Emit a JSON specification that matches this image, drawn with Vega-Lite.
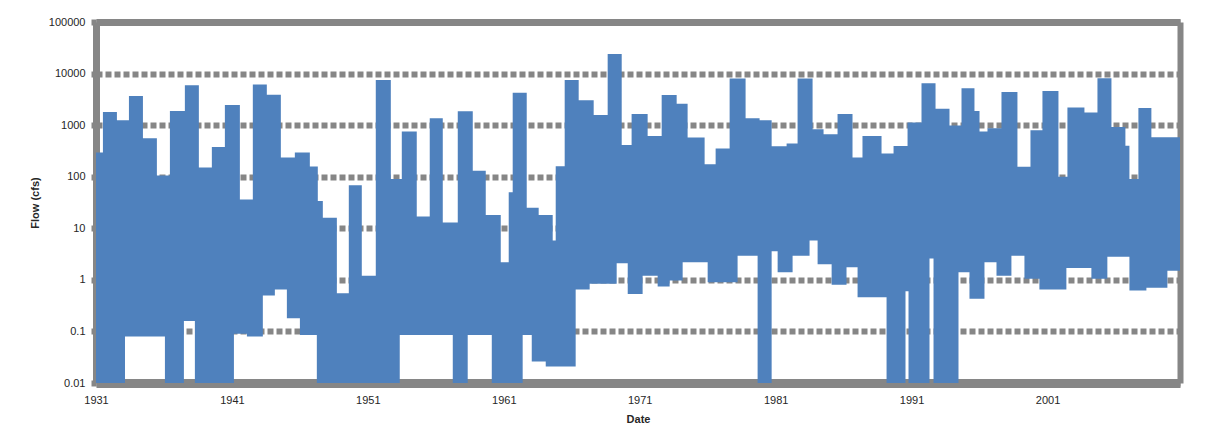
{
  "$schema": "https://vega.github.io/schema/vega-lite/v6.json",
  "width": 1084,
  "height": 361,
  "autosize": {"type": "none"},
  "padding": {"left": 96, "top": 22, "right": 36, "bottom": 63},
  "background": "white",
  "config": {
    "view": {"stroke": null},
    "font": "Liberation Sans",
    "axis": {"labelFont": "Liberation Sans", "titleFont": "Liberation Sans", "labelColor": "#262626", "titleColor": "#262626"}
  },
  "data": {"values": [
    {"date":"1931-01-01","hi":295,"lo":0.01},
    {"date":"1931-07-06","hi":1800,"lo":0.01},
    {"date":"1932-07-16","hi":1245,"lo":0.01},
    {"date":"1933-02-18","hi":1245,"lo":0.08},
    {"date":"1933-06-04","hi":3670,"lo":0.08},
    {"date":"1934-06-15","hi":558,"lo":0.08},
    {"date":"1935-06-25","hi":105,"lo":0.08},
    {"date":"1936-01-27","hi":105,"lo":0.01},
    {"date":"1936-06-09","hi":1880,"lo":0.01},
    {"date":"1937-06-20","hi":1880,"lo":0.16},
    {"date":"1937-07-16","hi":5910,"lo":0.16},
    {"date":"1938-04-11","hi":5910,"lo":0.01},
    {"date":"1938-07-27","hi":151,"lo":0.01},
    {"date":"1939-07-11","hi":377,"lo":0.01},
    {"date":"1940-06-25","hi":2460,"lo":0.01},
    {"date":"1941-02-23","hi":2460,"lo":0.09},
    {"date":"1941-08-02","hi":36,"lo":0.09},
    {"date":"1942-02-07","hi":36,"lo":0.08},
    {"date":"1942-07-16","hi":6170,"lo":0.08},
    {"date":"1943-04-11","hi":6170,"lo":0.5},
    {"date":"1943-07-27","hi":3900,"lo":0.5},
    {"date":"1944-02-28","hi":3900,"lo":0.65},
    {"date":"1944-08-07","hi":236,"lo":0.65},
    {"date":"1945-01-16","hi":236,"lo":0.18},
    {"date":"1945-08-18","hi":295,"lo":0.18},
    {"date":"1946-01-01","hi":295,"lo":0.085},
    {"date":"1946-09-25","hi":158,"lo":0.085},
    {"date":"1947-04-01","hi":158,"lo":0.01},
    {"date":"1947-04-27","hi":34,"lo":0.01},
    {"date":"1947-09-09","hi":16,"lo":0.01},
    {"date":"1948-09-20","hi":0.55,"lo":0.01},
    {"date":"1949-08-07","hi":68,"lo":0.01},
    {"date":"1950-07-22","hi":1.2,"lo":0.01},
    {"date":"1951-08-02","hi":7500,"lo":0.01},
    {"date":"1952-09-09","hi":90,"lo":0.01},
    {"date":"1953-05-07","hi":90,"lo":0.085},
    {"date":"1953-07-01","hi":750,"lo":0.085},
    {"date":"1954-08-07","hi":17,"lo":0.085},
    {"date":"1955-07-22","hi":1360,"lo":0.085},
    {"date":"1956-07-06","hi":13,"lo":0.085},
    {"date":"1957-04-01","hi":13,"lo":0.01},
    {"date":"1957-08-13","hi":1850,"lo":0.01},
    {"date":"1958-05-07","hi":1850,"lo":0.085},
    {"date":"1958-09-20","hi":130,"lo":0.085},
    {"date":"1959-09-04","hi":18,"lo":0.085},
    {"date":"1960-02-13","hi":18,"lo":0.01},
    {"date":"1960-10-11","hi":2.2,"lo":0.01},
    {"date":"1961-05-13","hi":50,"lo":0.01},
    {"date":"1961-08-28","hi":4270,"lo":0.01},
    {"date":"1962-05-23","hi":4270,"lo":0.085},
    {"date":"1962-09-09","hi":25,"lo":0.085},
    {"date":"1963-01-22","hi":25,"lo":0.026},
    {"date":"1963-07-27","hi":18,"lo":0.026},
    {"date":"1964-02-02","hi":18,"lo":0.021},
    {"date":"1964-08-07","hi":5.8,"lo":0.021},
    {"date":"1964-10-27","hi":160,"lo":0.021},
    {"date":"1965-06-25","hi":7500,"lo":0.021},
    {"date":"1966-04-16","hi":7500,"lo":0.65},
    {"date":"1966-07-06","hi":3030,"lo":0.65},
    {"date":"1967-04-27","hi":3030,"lo":0.84},
    {"date":"1967-08-13","hi":1580,"lo":0.84},
    {"date":"1968-08-23","hi":24000,"lo":0.84},
    {"date":"1969-04-22","hi":24000,"lo":2.1},
    {"date":"1969-09-04","hi":414,"lo":2.1},
    {"date":"1970-02-13","hi":414,"lo":0.53},
    {"date":"1970-05-28","hi":1640,"lo":0.53},
    {"date":"1971-03-20","hi":1640,"lo":1.2},
    {"date":"1971-08-02","hi":617,"lo":1.2},
    {"date":"1972-04-27","hi":617,"lo":0.74},
    {"date":"1972-08-13","hi":3840,"lo":0.74},
    {"date":"1973-03-15","hi":3840,"lo":0.97},
    {"date":"1973-09-20","hi":2610,"lo":0.97},
    {"date":"1974-02-28","hi":2610,"lo":2.2},
    {"date":"1974-07-11","hi":575,"lo":2.2},
    {"date":"1975-10-11","hi":175,"lo":2.2},
    {"date":"1976-01-01","hi":175,"lo":0.9},
    {"date":"1976-08-02","hi":352,"lo":0.9},
    {"date":"1977-08-13","hi":8000,"lo":0.9},
    {"date":"1978-03-15","hi":8000,"lo":2.95},
    {"date":"1978-10-16","hi":1360,"lo":2.95},
    {"date":"1979-09-04","hi":1360,"lo":0.01},
    {"date":"1979-10-27","hi":1245,"lo":0.01},
    {"date":"1980-09-15","hi":391,"lo":3.6},
    {"date":"1981-02-23","hi":391,"lo":1.4},
    {"date":"1981-10-22","hi":440,"lo":1.4},
    {"date":"1982-04-01","hi":440,"lo":2.95},
    {"date":"1982-08-13","hi":8000,"lo":2.95},
    {"date":"1983-07-01","hi":8000,"lo":5.8},
    {"date":"1983-09-20","hi":833,"lo":5.8},
    {"date":"1984-02-02","hi":833,"lo":2.0},
    {"date":"1984-07-11","hi":667,"lo":2.0},
    {"date":"1985-02-13","hi":667,"lo":0.8},
    {"date":"1985-07-22","hi":1640,"lo":0.8},
    {"date":"1986-03-20","hi":1640,"lo":1.76},
    {"date":"1986-08-28","hi":236,"lo":1.76},
    {"date":"1987-01-11","hi":236,"lo":0.46},
    {"date":"1987-05-23","hi":617,"lo":0.46},
    {"date":"1988-10-16","hi":282,"lo":0.46},
    {"date":"1989-02-28","hi":282,"lo":0.01},
    {"date":"1989-09-04","hi":396,"lo":0.01},
    {"date":"1990-07-22","hi":396,"lo":0.6},
    {"date":"1990-09-15","hi":1120,"lo":0.6},
    {"date":"1990-10-11","hi":1120,"lo":0.01},
    {"date":"1991-09-25","hi":6460,"lo":0.01},
    {"date":"1992-04-27","hi":6460,"lo":2.6},
    {"date":"1992-08-13","hi":6460,"lo":0.01},
    {"date":"1992-10-06","hi":2090,"lo":0.01},
    {"date":"1993-10-16","hi":980,"lo":0.01},
    {"date":"1994-06-15","hi":980,"lo":1.4},
    {"date":"1994-09-04","hi":5170,"lo":1.4},
    {"date":"1995-04-06","hi":5170,"lo":0.43},
    {"date":"1995-08-18","hi":1880,"lo":0.43},
    {"date":"1996-01-01","hi":751,"lo":0.43},
    {"date":"1996-05-13","hi":751,"lo":2.2},
    {"date":"1996-08-02","hi":871,"lo":2.2},
    {"date":"1997-04-01","hi":871,"lo":1.2},
    {"date":"1997-08-13","hi":4400,"lo":1.2},
    {"date":"1998-05-07","hi":4400,"lo":2.95},
    {"date":"1998-10-16","hi":156,"lo":2.95},
    {"date":"1999-04-22","hi":156,"lo":1.05},
    {"date":"1999-10-01","hi":796,"lo":1.05},
    {"date":"2000-05-28","hi":796,"lo":0.65},
    {"date":"2000-08-18","hi":4590,"lo":0.65},
    {"date":"2001-10-22","hi":100,"lo":0.65},
    {"date":"2002-05-23","hi":100,"lo":1.7},
    {"date":"2002-06-20","hi":2190,"lo":1.7},
    {"date":"2003-09-20","hi":1750,"lo":1.7},
    {"date":"2004-03-25","hi":1750,"lo":1.05},
    {"date":"2004-09-04","hi":8080,"lo":1.05},
    {"date":"2005-05-28","hi":8080,"lo":2.8},
    {"date":"2005-09-15","hi":923,"lo":2.8},
    {"date":"2006-09-25","hi":400,"lo":2.8},
    {"date":"2007-01-11","hi":90,"lo":0.62},
    {"date":"2007-09-09","hi":2140,"lo":0.62},
    {"date":"2008-04-11","hi":2140,"lo":0.7},
    {"date":"2008-08-23","hi":580,"lo":0.7},
    {"date":"2009-10-27","hi":580,"lo":1.5},
    {"date":"2010-10-01","hi":580,"lo":1.5}
  ]},
  "resolve": {"axis": {"x": "independent", "y": "independent"}},
  "layer": [
    {
      "mark": {"type": "area", "interpolate": "step-after", "color": "#4F81BD", "clip": true},
      "encoding": {
        "x": {
          "field": "date", "type": "temporal",
          "scale": {"type": "utc", "domain": [{"year": 1931, "month": 1, "date": 1, "utc": true}, {"year": 2010, "month": 10, "date": 1, "utc": true}], "nice": false},
          "axis": {
            "title": "Date", "titleFontWeight": "bold", "titleFontSize": 11, "titlePadding": 8,
            "values": [{"year": 1931, "utc": true}, {"year": 1941, "utc": true}, {"year": 1951, "utc": true}, {"year": 1961, "utc": true}, {"year": 1971, "utc": true}, {"year": 1981, "utc": true}, {"year": 1991, "utc": true}, {"year": 2001, "utc": true}],
            "format": "%Y", "labelFontSize": 11, "labelPadding": 11, "ticks": false, "grid": false,
            "domain": true, "domainColor": "#868686", "domainWidth": 9, "labelFlush": false
          }
        },
        "y": {
          "field": "hi", "type": "quantitative",
          "scale": {"type": "log", "domain": [0.01, 100000], "nice": false},
          "axis": {
            "title": "Flow (cfs)", "titleFontWeight": "bold", "titleFontSize": 11, "titlePadding": 8,
            "values": [0.01, 0.1, 1, 10, 100, 1000, 10000, 100000],
            "format": "~g", "labelFontSize": 11, "labelPadding": 6,
            "grid": true, "gridColor": "#868686", "gridWidth": 6, "gridDash": [6, 3], "gridOpacity": 1,
            "ticks": true, "tickColor": "#868686", "tickWidth": 6, "tickSize": 5,
            "domain": true, "domainColor": "#868686", "domainWidth": 7
          }
        },
        "y2": {"field": "lo"}
      }
    },
    {
      "mark": {"type": "point", "opacity": 0},
      "encoding": {
        "x": {
          "field": "date", "type": "temporal",
          "axis": {"orient": "top", "labels": false, "ticks": false, "grid": false, "title": null, "domain": true, "domainColor": "#868686", "domainWidth": 7}
        },
        "y": {
          "field": "hi", "type": "quantitative",
          "axis": {"orient": "right", "labels": false, "ticks": false, "grid": false, "title": null, "domain": true, "domainColor": "#868686", "domainWidth": 6}
        }
      }
    }
  ]
}
